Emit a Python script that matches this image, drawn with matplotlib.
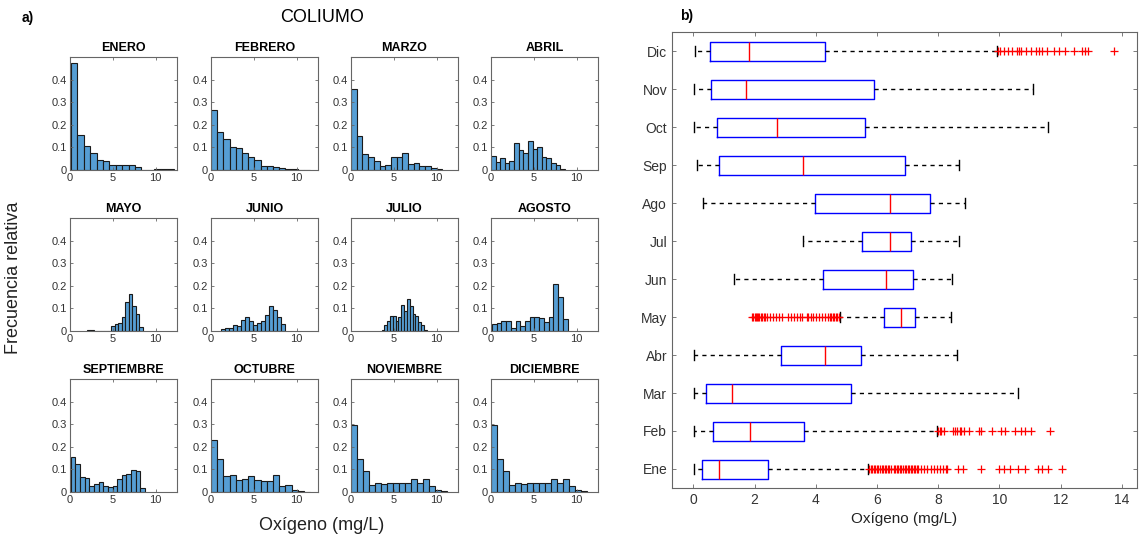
import numpy as np
import matplotlib
matplotlib.use('Agg')
import matplotlib.pyplot as plt

plt.rcParams['font.family'] = ['Liberation Sans', 'DejaVu Sans']

# --- histogram data (a) ---
hist_titles = ['ENERO', 'FEBRERO', 'MARZO', 'ABRIL', 'MAYO', 'JUNIO',
               'JULIO', 'AGOSTO', 'SEPTIEMBRE', 'OCTUBRE', 'NOVIEMBRE', 'DICIEMBRE']
hist_lo = [0.1, 0.0, 0.0, 0.0, 1.95, 1.16, 3.57, 0.1, 0.1, 0.0, 0.0, 0.0]
hist_hi = [12.1, 11.6, 10.66, 8.64, 8.5, 8.6, 8.84, 8.95, 8.75, 11.59, 11.16, 11.16]
h_ene = [0.475, 0.153, 0.105, 0.077, 0.045, 0.039, 0.021, 0.021, 0.024, 0.024, 0.015, 0.001, 0.001, 0.003, 0.003, 0.003]
h_feb = [0.267, 0.166, 0.137, 0.103, 0.098, 0.074, 0.059, 0.043, 0.019, 0.019, 0.012, 0.007, 0.004, 0.003, 0.002, 0.002]
h_mar = [0.36, 0.149, 0.073, 0.058, 0.039, 0.019, 0.024, 0.059, 0.058, 0.076, 0.028, 0.031, 0.018, 0.018, 0.007, 0.004]
h_abr = [0.062, 0.037, 0.052, 0.033, 0.039, 0.118, 0.088, 0.075, 0.13, 0.094, 0.10, 0.057, 0.053, 0.033, 0.02, 0.006]
h_may = [0.005, 0.005, 0.0, 0.002, 0.002, 0.002, 0.002, 0.02, 0.03, 0.037, 0.062, 0.13, 0.163, 0.11, 0.077, 0.018]
h_jun = [0.008, 0.015, 0.015, 0.025, 0.022, 0.05, 0.06, 0.045, 0.025, 0.035, 0.045, 0.07, 0.11, 0.095, 0.06, 0.03]
h_jul = [0.005, 0.025, 0.045, 0.065, 0.065, 0.045, 0.06, 0.115, 0.09, 0.14, 0.11, 0.075, 0.065, 0.04, 0.025, 0.005]
h_ago = [0.03, 0.035, 0.045, 0.045, 0.015, 0.045, 0.02, 0.045, 0.06, 0.06, 0.058, 0.04, 0.06, 0.21, 0.15, 0.055]
h_sep = [0.155, 0.125, 0.065, 0.062, 0.025, 0.035, 0.045, 0.025, 0.02, 0.028, 0.058, 0.075, 0.08, 0.097, 0.095, 0.018]
h_oct = [0.23, 0.145, 0.07, 0.077, 0.052, 0.057, 0.072, 0.055, 0.048, 0.05, 0.077, 0.025, 0.033, 0.008, 0.005, 0.002]
h_nov = [0.295, 0.148, 0.095, 0.033, 0.038, 0.037, 0.042, 0.042, 0.038, 0.042, 0.057, 0.04, 0.058, 0.028, 0.008, 0.004]
h_dic = [0.295, 0.148, 0.095, 0.033, 0.038, 0.037, 0.042, 0.042, 0.038, 0.042, 0.057, 0.04, 0.058, 0.028, 0.008, 0.004]
hist_heights = [h_ene, h_feb, h_mar, h_abr, h_may, h_jun, h_jul, h_ago, h_sep, h_oct, h_nov, h_dic]

# --- boxplot data (b) ---
box_labels = ['Ene', 'Feb', 'Mar', 'Abr', 'May', 'Jun', 'Jul', 'Ago', 'Sep', 'Oct', 'Nov', 'Dic']
whis_lo = [0.03, 0.02, 0.02, 0.02, 4.8, 1.33, 3.59, 0.30, 0.13, 0.02, 0.02, 0.05]
q1 = [0.28, 0.65, 0.42, 2.87, 6.24, 4.23, 5.50, 3.96, 0.83, 0.77, 0.56, 0.54]
med = [0.82, 1.85, 1.27, 4.30, 6.79, 6.28, 6.44, 6.43, 3.58, 2.72, 1.72, 1.82]
q3 = [2.45, 3.60, 5.15, 5.47, 7.23, 7.17, 7.10, 7.72, 6.90, 5.62, 5.91, 4.31]
whis_hi = [5.70, 7.95, 10.6, 8.60, 8.42, 8.44, 8.67, 8.88, 8.69, 11.58, 11.11, 9.92]
out_ene = [5.75, 5.8, 5.85, 5.9, 5.95, 6.0, 6.05, 6.1, 6.15, 6.2, 6.25, 6.3, 6.35, 6.4, 6.45,
           6.55, 6.6, 6.65, 6.7, 6.75, 6.8, 6.85, 6.9, 6.95, 7.0, 7.05, 7.1, 7.15, 7.2, 7.25,
           7.3, 7.35, 7.45, 7.55, 7.65, 7.75, 7.85, 7.95, 8.05, 8.15, 8.25, 8.3, 8.65, 8.8,
           9.4, 10.0, 10.15, 10.35, 10.6, 10.85, 11.25, 11.4, 11.6, 12.05]
out_feb = [8.0, 8.05, 8.1, 8.2, 8.5, 8.55, 8.6, 8.7, 8.75, 8.85, 9.0, 9.35, 9.4, 9.75,
           10.05, 10.2, 10.5, 10.7, 10.85, 11.05, 11.65]
out_may = [1.92, 1.96, 2.0, 2.04, 2.08, 2.12, 2.16, 2.2, 2.25, 2.3, 2.35, 2.4, 2.5, 2.6,
           2.7, 2.8, 2.9, 3.1, 3.2, 3.3, 3.4, 3.5, 3.55, 3.7, 3.75, 3.85, 3.9, 4.0, 4.1,
           4.2, 4.3, 4.4, 4.45, 4.5, 4.55, 4.6, 4.65, 4.7, 4.75]
out_dic = [9.95, 10.03, 10.14, 10.27, 10.43, 10.57, 10.65, 10.72, 10.86, 11.03, 11.19,
           11.3, 11.41, 11.57, 11.78, 11.95, 12.16, 12.43, 12.7, 12.81, 12.89, 13.76]
outliers = [out_ene, out_feb, [], [], out_may, [], [], [], [], [], [], out_dic]

W, H = 1139, 538
fig = plt.figure(figsize=(W / 100, H / 100), dpi=100)

tick_col = '#333333'
spine_col = '#666666'
bar_col = '#569ED4'

col_left = [70, 211, 351, 491]
row_top = [57, 218, 379]
aw, ah = 107, 113

for i, name in enumerate(hist_titles):
    r, c = divmod(i, 4)
    ax = fig.add_axes([col_left[c] / W, 1 - (row_top[r] + ah) / H, aw / W, ah / H])
    edges = np.linspace(hist_lo[i], hist_hi[i], len(hist_heights[i]) + 1)
    ax.bar(edges[:-1], hist_heights[i], width=np.diff(edges), align='edge',
           color=bar_col, edgecolor='#1a1a1a', linewidth=0.8)
    ax.set_xlim(0, 12.5)
    ax.set_ylim(0, 0.5)
    ax.set_xticks([0, 5, 10])
    ax.set_yticks([0, 0.1, 0.2, 0.3, 0.4])
    ax.set_yticklabels(['0', '0.1', '0.2', '0.3', '0.4'])
    ax.tick_params(direction='in', length=2.5, width=0.6, labelsize=8, colors=spine_col,
                   labelcolor=tick_col, top=True, right=True, pad=2)
    for s in ax.spines.values():
        s.set_color(spine_col)
        s.set_linewidth(0.8)
    ax.set_title(name, fontsize=9, fontweight='bold', pad=4)

fig.text(22 / W, 1 - 18 / H, 'a)', fontsize=10, fontweight='bold', va='center')
fig.text(322 / W, 1 - 18 / H, 'COLIUMO', fontsize=13, ha='center', va='center')
fig.text(14 / W, 1 - 278 / H, 'Frecuencia relativa', fontsize=13, rotation=90,
         ha='center', va='center', color='#222222')
fig.text(322 / W, 1 - 526 / H, 'Oxígeno (mg/L)', fontsize=13, ha='center', va='center',
         color='#222222')

# --- boxplot panel ---
axb = fig.add_axes([672 / W, 1 - 488 / H, 465 / W, 456 / H])
stats = []
for i in range(len(box_labels)):
    stats.append(dict(whislo=whis_lo[i], q1=q1[i], med=med[i], q3=q3[i],
                      whishi=whis_hi[i], fliers=outliers[i]))
axb.bxp(stats, positions=np.arange(1, 13), vert=False, widths=0.5, capwidths=0.25,
        boxprops=dict(color='blue', linewidth=1.0),
        medianprops=dict(color='red', linewidth=1.0),
        whiskerprops=dict(color='black', linewidth=1.0, linestyle=(0, (3, 3))),
        capprops=dict(color='black', linewidth=1.0),
        flierprops=dict(marker='+', markeredgecolor='red', markersize=6,
                        markeredgewidth=0.9, linestyle='none'))
axb.set_xlim(-0.7, 14.5)
axb.set_ylim(0.5, 12.5)
axb.set_xticks(np.arange(0, 15, 2))
axb.set_yticks(np.arange(1, 13))
axb.set_yticklabels(box_labels)
axb.tick_params(direction='in', length=3, width=0.6, labelsize=10, colors=spine_col,
                labelcolor=tick_col, top=True, right=True)
for s in axb.spines.values():
    s.set_color(spine_col)
    s.set_linewidth(0.8)
axb.set_xlabel('Oxígeno (mg/L)', fontsize=11, color='#222222', labelpad=4)
fig.text(680 / W, 1 - 16 / H, 'b)', fontsize=10, fontweight='bold', va='center')

fig.savefig('out.png', dpi=100)
